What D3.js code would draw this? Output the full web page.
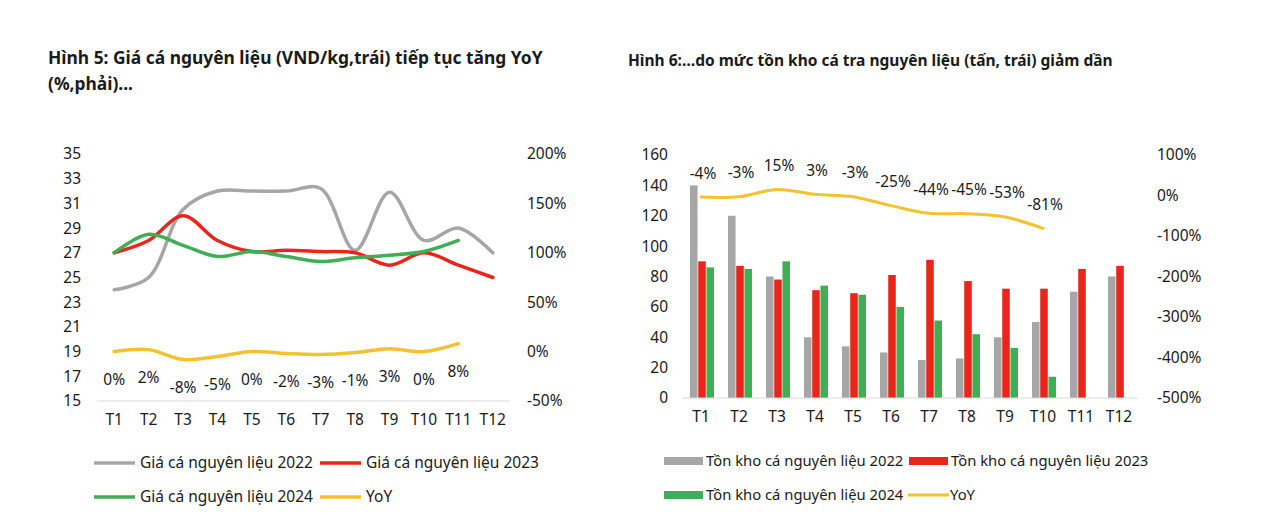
<!DOCTYPE html>
<html>
<head>
<meta charset="utf-8">
<script src="https://cdn.jsdelivr.net/npm/d3@7"></script>
<style>
  body { margin: 0; background: #fff; }
  svg text { font-family: "Noto Sans", sans-serif; fill: #1a1a1a; }
</style>
</head>
<body>
<div id="chart"></div>
<script>
// DATA
const months = ["T1", "T2", "T3", "T4", "T5", "T6", "T7", "T8", "T9", "T10", "T11", "T12"];

// Hình 5: giá cá nguyên liệu (VND/kg) and YoY (%)
const price2022 = [24, 25, 30.5, 32, 32, 32, 32.2, 27.2, 31.9, 28, 29, 27];
const price2023 = [27, 28, 30, 28, 27.1, 27.2, 27.1, 27, 26, 27, 26, 25];
const price2024 = [27, 28.5, 27.6, 26.7, 27.1, 26.7, 26.3, 26.6, 26.8, 27.1, 28];
const priceYoY = [0, 2, -8, -5, 0, -2, -3, -1, 3, 0, 8];
const priceTicksL = [15, 17, 19, 21, 23, 25, 27, 29, 31, 33, 35];
const priceTicksR = [-50, 0, 50, 100, 150, 200];

// Hình 6: tồn kho cá nguyên liệu (tấn) and YoY (%)
const stock2022 = [140, 120, 80, 40, 34, 30, 25, 26, 40, 50, 70, 80];
const stock2023 = [90, 87, 78, 71, 69, 81, 91, 77, 72, 72, 85, 87];
const stock2024 = [86, 85, 90, 74, 68, 60, 51, 42, 33, 14];
const stockYoY = [-4, -3, 15, 3, -3, -25, -44, -45, -53, -81];
const stockTicksL = [0, 20, 40, 60, 80, 100, 120, 140, 160];
const stockTicksR = [-500, -400, -300, -200, -100, 0, 100];

const colors = { y2022: "#a6a6a6", y2023: "#e8261c", y2024: "#3fae56", yoy: "#f2c230" };
const fs = 15.5;

const svg = d3.select("#chart").append("svg")
    .attr("width", 1280)
    .attr("height", 532);

// helper: axis labels with no lines
function styleAxis(g) {
    g.select(".domain").remove();
    g.selectAll(".tick line").remove();
    g.selectAll(".tick text").attr("font-size", fs).attr("fill", "#1a1a1a");
}

// ---------- CHART 1 ----------
const c1 = svg.append("g");

c1.append("text").attr("x", 48).attr("y", 64)
    .attr("font-size", 17.4).attr("font-weight", "bold")
    .text("Hình 5: Giá cá nguyên liệu (VND/kg,trái) tiếp tục tăng YoY");
c1.append("text").attr("x", 48).attr("y", 90)
    .attr("font-size", 17.4).attr("font-weight", "bold")
    .text("(%,phải)...");

const x1 = d3.scaleBand().domain(months).range([97, 510]);
const y1L = d3.scaleLinear().domain([15, 35]).range([401, 154]);
const y1R = d3.scaleLinear().domain([-50, 200]).range([401, 154]);

c1.append("g").attr("transform", "translate(97,0)")
    .call(d3.axisLeft(y1L).tickValues(priceTicksL).tickSize(0).tickPadding(16))
    .call(styleAxis);
c1.append("g").attr("transform", "translate(510,0)")
    .call(d3.axisRight(y1R).tickValues(priceTicksR).tickSize(0).tickPadding(17).tickFormat(d => d + "%"))
    .call(styleAxis);
c1.append("g").attr("transform", "translate(0,401)")
    .call(d3.axisBottom(x1).tickSize(0).tickPadding(13))
    .call(styleAxis);
c1.append("line").attr("x1", 97).attr("x2", 510).attr("y1", 401).attr("y2", 401)
    .attr("stroke", "#d9d9d9").attr("stroke-width", 1);

const cx1 = (d, i) => x1(months[i]) + x1.bandwidth() / 2;
const line1L = d3.line().x(cx1).y(d => y1L(d)).curve(d3.curveCatmullRom);
const line1R = d3.line().x(cx1).y(d => y1R(d)).curve(d3.curveCatmullRom);

[[price2022, colors.y2022], [price2023, colors.y2023], [price2024, colors.y2024]].forEach(([s, c]) => {
    c1.append("path").datum(s)
        .attr("fill", "none").attr("stroke", c).attr("stroke-width", 3.5)
        .attr("stroke-linecap", "round")
        .attr("d", line1L);
});
c1.append("path").datum(priceYoY)
    .attr("fill", "none").attr("stroke", colors.yoy).attr("stroke-width", 3.5)
    .attr("stroke-linecap", "round")
    .attr("d", line1R);

c1.selectAll(".lbl").data(priceYoY).join("text")
    .attr("x", cx1)
    .attr("y", d => y1R(d) + 28)
    .attr("dy", "0.35em")
    .attr("text-anchor", "middle")
    .attr("font-size", fs)
    .text(d => d + "%");

// legend 1
const leg1 = [
    { name: "Giá cá nguyên liệu 2022", color: colors.y2022, x: 94, y: 463 },
    { name: "Giá cá nguyên liệu 2023", color: colors.y2023, x: 320, y: 463 },
    { name: "Giá cá nguyên liệu 2024", color: colors.y2024, x: 94, y: 497 },
    { name: "YoY", color: colors.yoy, x: 320, y: 497 }
];
leg1.forEach(d => {
    c1.append("line").attr("x1", d.x).attr("x2", d.x + 41).attr("y1", d.y).attr("y2", d.y)
        .attr("stroke", d.color).attr("stroke-width", 3.5);
    c1.append("text").attr("x", d.x + 46).attr("y", d.y).attr("dy", "0.35em")
        .attr("font-size", fs).text(d.name);
});

// ---------- CHART 2 ----------
const c2 = svg.append("g");

c2.append("text").attr("x", 628).attr("y", 66)
    .attr("font-size", 15.5).attr("font-weight", "bold")
    .text("Hình 6:…do mức tồn kho cá tra nguyên liệu (tấn, trái) giảm dần");

const x2 = d3.scaleBand().domain(months).range([682, 1138]);
const xSub = d3.scaleBand().domain(["2022", "2023", "2024"]).range([0, 24]).paddingInner(0.08);
const y2L = d3.scaleLinear().domain([0, 160]).range([398, 155]);
const y2R = d3.scaleLinear().domain([-500, 100]).range([398, 155]);

c2.append("g").attr("transform", "translate(682,0)")
    .call(d3.axisLeft(y2L).tickValues(stockTicksL).tickSize(0).tickPadding(14))
    .call(styleAxis);
c2.append("g").attr("transform", "translate(1138,0)")
    .call(d3.axisRight(y2R).tickValues(stockTicksR).tickSize(0).tickPadding(19).tickFormat(d => d + "%"))
    .call(styleAxis);
c2.append("g").attr("transform", "translate(0,398)")
    .call(d3.axisBottom(x2).tickSize(0).tickPadding(13))
    .call(styleAxis);

const groupOff = (x2.bandwidth() - 24) / 2 + 1;
[["2022", stock2022, colors.y2022], ["2023", stock2023, colors.y2023], ["2024", stock2024, colors.y2024]].forEach(([k, s, c]) => {
    c2.selectAll(".bar" + k).data(s).join("rect")
        .attr("x", (d, i) => x2(months[i]) + groupOff + xSub(k))
        .attr("y", d => y2L(d))
        .attr("width", xSub.bandwidth())
        .attr("height", d => y2L(0) - y2L(d))
        .attr("fill", c);
});
c2.append("line").attr("x1", 682).attr("x2", 1138).attr("y1", 398).attr("y2", 398)
    .attr("stroke", "#d9d9d9").attr("stroke-width", 1);

const cx2 = (d, i) => x2(months[i]) + x2.bandwidth() / 2;
const line2R = d3.line().x(cx2).y(d => y2R(d)).curve(d3.curveCatmullRom);
c2.append("path").datum(stockYoY)
    .attr("fill", "none").attr("stroke", colors.yoy).attr("stroke-width", 3)
    .attr("stroke-linecap", "round")
    .attr("d", line2R);

c2.selectAll(".lbl").data(stockYoY).join("text")
    .attr("x", (d, i) => cx2(d, i) + 2)
    .attr("y", d => y2R(d) - 24)
    .attr("dy", "0.35em")
    .attr("text-anchor", "middle")
    .attr("font-size", fs)
    .text(d => d + "%");

// legend 2
const leg2 = [
    { name: "Tồn kho cá nguyên liệu 2022", color: colors.y2022, x: 664, y: 461, bar: true },
    { name: "Tồn kho cá nguyên liệu 2023", color: colors.y2023, x: 909, y: 461, bar: true },
    { name: "Tồn kho cá nguyên liệu 2024", color: colors.y2024, x: 664, y: 495, bar: true },
    { name: "YoY", color: colors.yoy, x: 908, y: 495, bar: false }
];
leg2.forEach(d => {
    if (d.bar) {
        c2.append("rect").attr("x", d.x).attr("y", d.y - 4).attr("width", 39).attr("height", 8)
            .attr("fill", d.color);
    } else {
        c2.append("line").attr("x1", d.x).attr("x2", d.x + 41).attr("y1", d.y).attr("y2", d.y)
            .attr("stroke", d.color).attr("stroke-width", 3);
    }
    c2.append("text").attr("x", d.x + 42).attr("y", d.y).attr("dy", "0.35em")
        .attr("font-size", 14.8).text(d.name);
});
</script>
</body>
</html>
